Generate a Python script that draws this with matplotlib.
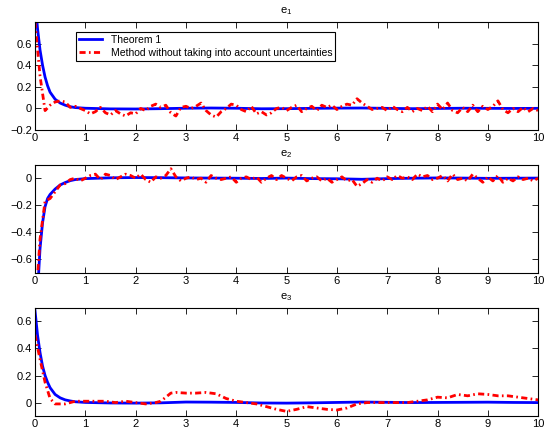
import numpy as np
import matplotlib
matplotlib.use("Agg")
import matplotlib.pyplot as plt

plt.rcParams["font.family"] = ["Liberation Sans", "DejaVu Sans"]
plt.rcParams["mathtext.default"] = "regular"
plt.rcParams["font.size"] = 8

# time grid for the red curves (step 0.1)
t_red = np.round(np.arange(0, 10.01, 0.1), 1)

# e1
t_blue1 = [0, 0.05, 0.1, 0.15, 0.2, 0.25, 0.3, 0.4, 0.5, 0.6, 0.7, 0.8, 1.0, 1.5, 2.0,
           2.5, 3.0, 3.5, 4.0, 4.5, 5.0, 5.5, 6.0, 6.5, 7.0, 7.5, 8.0, 8.5, 9.0, 9.5, 10.0]
e1_blue = [1.02, 0.74, 0.54, 0.40, 0.29, 0.21, 0.15, 0.085, 0.05, 0.03, 0.016, 0.008, 0.002,
           -0.004, -0.005, -0.002, 0.002, 0.004, 0.002, -0.003, -0.002, 0.001, 0.003, 0.004,
           0.001, -0.002, 0.000, 0.002, 0.001, 0.000, 0.001]
e1_red = [0.80, 0.30, -0.02, 0.03, 0.06, 0.07, 0.06, 0.01, 0.02, 0.00,
          -0.02, -0.05, -0.03, 0.01, -0.04, -0.06, -0.02, -0.05, -0.07, -0.04,
          -0.05, 0.00, -0.02, 0.02, 0.04, 0.01, 0.03, -0.04, -0.07, 0.01,
          0.02, 0.00, 0.02, 0.05, -0.02, -0.06, -0.08, -0.03, 0.00, 0.04,
          0.03, -0.01, -0.03, 0.02, -0.05, -0.03, -0.06, -0.04, 0.00, 0.01,
          -0.02, 0.01, 0.03, -0.03, 0.00, 0.02, -0.02, 0.03, 0.01, 0.03,
          -0.01, 0.02, 0.04, 0.03, 0.09, 0.05, 0.02, -0.01, 0.00, 0.01,
          -0.02, 0.02, -0.01, -0.03, 0.01, -0.03, 0.00, -0.02, 0.02, -0.03,
          0.04, -0.01, 0.05, -0.02, -0.04, 0.01, -0.03, 0.03, -0.03, 0.02,
          -0.01, 0.02, 0.07, -0.01, -0.04, 0.00, -0.03, 0.01, -0.03, 0.00,
          -0.02]

# e2
t_blue2 = t_blue1
e2_blue = [-1.20, -0.85, -0.52, -0.33, -0.21, -0.15, -0.12, -0.08, -0.05, -0.032, -0.018,
           -0.01, -0.003, 0.003, 0.005, 0.004, 0.002, 0.001, 0.000, -0.002, 0.001, -0.003,
           -0.004, -0.008, -0.003, 0.000, 0.002, 0.001, -0.001, 0.000, 0.001]
e2_red = [-1.00, -0.45, -0.17, -0.15, -0.10, -0.05, -0.04, -0.01, 0.00, -0.02,
          0.00, 0.02, 0.03, -0.01, 0.03, 0.02, -0.01, 0.01, 0.03, 0.02,
          0.00, 0.03, -0.01, -0.03, 0.01, 0.00, 0.02, 0.07, 0.01, -0.02,
          0.00, 0.01, -0.01, 0.00, -0.03, 0.02, 0.00, -0.01, 0.00, 0.01,
          -0.03, 0.00, 0.01, -0.01, 0.01, -0.03, 0.00, 0.02, -0.01, 0.02,
          0.00, -0.02, 0.01, 0.02, -0.02, 0.00, 0.01, -0.02, 0.00, -0.03,
          -0.01, 0.01, -0.02, -0.01, -0.06, -0.04, -0.01, -0.03, 0.00, -0.02,
          0.01, -0.01, 0.02, 0.00, 0.01, -0.01, 0.03, 0.01, 0.02, -0.01,
          0.00, 0.02, -0.02, 0.03, -0.01, 0.00, -0.02, 0.03, 0.00, -0.03,
          0.01, -0.02, 0.02, -0.03, 0.00, -0.02, 0.01, -0.01, 0.00, -0.02,
          0.00]

# e3
t_blue3 = t_blue1
e3_blue = [0.68, 0.50, 0.37, 0.27, 0.20, 0.15, 0.11, 0.06, 0.035, 0.02, 0.012, 0.006, 0.001,
           -0.003, -0.004, -0.002, 0.004, 0.003, 0.001, -0.003, -0.004, -0.002, 0.001, 0.004,
           0.002, 0.000, 0.001, 0.002, 0.003, 0.001, 0.000]
t_red3 = [0, 0.1, 0.2, 0.3, 0.4, 0.5, 0.6, 0.7, 0.8, 1.0, 1.2, 1.4, 1.6, 1.8, 2.0, 2.2,
          2.4, 2.5, 2.6, 2.7, 2.8, 3.0, 3.2, 3.4, 3.6, 3.8, 4.0, 4.2, 4.4, 4.6, 4.8, 5.0,
          5.2, 5.4, 5.6, 5.8, 6.0, 6.2, 6.4, 6.6, 6.8, 7.0, 7.2, 7.4, 7.6, 7.8, 8.0, 8.2,
          8.4, 8.6, 8.8, 9.0, 9.2, 9.4, 9.6, 9.8, 10.0]
e3_red = [0.50, 0.32, 0.15, 0.03, -0.01, -0.01, -0.01, 0.00, 0.01, 0.01, 0.01, 0.01, 0.00,
          0.01, 0.00, -0.01, 0.00, 0.01, 0.04, 0.07, 0.075, 0.07, 0.07, 0.075, 0.065, 0.03,
          0.01, 0.00, -0.01, -0.03, -0.05, -0.065, -0.05, -0.03, -0.04, -0.05, -0.055, -0.04,
          -0.01, 0.00, 0.00, 0.00, 0.00, 0.00, 0.01, 0.02, 0.04, 0.035, 0.06, 0.05, 0.065,
          0.06, 0.05, 0.05, 0.04, 0.03, 0.02]

fig = plt.figure(figsize=(5.6, 4.38), dpi=100)
left, width, height = 0.0625, 0.8985, 0.247
ax1 = fig.add_axes([left, 0.703, width, height])
ax2 = fig.add_axes([left, 0.377, width, height])
ax3 = fig.add_axes([left, 0.050, width, height])

blue = "#0000ff"
red = "#ff0000"
dashdot = (0, (2.2, 1.2, 0.6, 1.2))

ax1.plot(t_blue1, e1_blue, color=blue, lw=2, label="Theorem 1")
ax1.plot(t_red, e1_red, color=red, lw=2, ls=dashdot, label="Method without taking into account uncertainties")
ax2.plot(t_blue2, e2_blue, color=blue, lw=2)
ax2.plot(t_red, e2_red, color=red, lw=2, ls=dashdot)
ax3.plot(t_blue3, e3_blue, color=blue, lw=2)
ax3.plot(t_red3, e3_red, color=red, lw=2, ls=dashdot)

ax1.set_ylim(-0.2, 0.8)
ax1.set_yticks([-0.2, 0, 0.2, 0.4, 0.6])
ax2.set_ylim(-0.7, 0.1)
ax2.set_yticks([-0.6, -0.4, -0.2, 0])
ax3.set_ylim(-0.1, 0.7)
ax3.set_yticks([0, 0.2, 0.4, 0.6])

fmt = matplotlib.ticker.FuncFormatter(lambda v, p: ("%g" % round(v, 2)).replace("-", "\u2212"))
for ax, name in zip([ax1, ax2, ax3], ["e$_1$", "e$_2$", "e$_3$"]):
    ax.set_xlim(0, 10)
    ax.set_xticks(range(0, 11))
    ax.tick_params(direction="in", top=True, right=True, length=4, width=0.6, pad=2)
    ax.yaxis.set_major_formatter(fmt)
    ax.set_title(name, fontsize=8, pad=6)
    for s in ax.spines.values():
        s.set_linewidth(0.8)

leg = ax1.legend(loc="upper left", bbox_to_anchor=(0.082, 0.907), borderaxespad=0,
                 fancybox=False, framealpha=1, edgecolor="black", fontsize=7.5,
                 handlelength=2.2, borderpad=0.3, labelspacing=0.25)
leg.get_frame().set_linewidth(0.8)

fig.savefig("out.png", dpi=100)
